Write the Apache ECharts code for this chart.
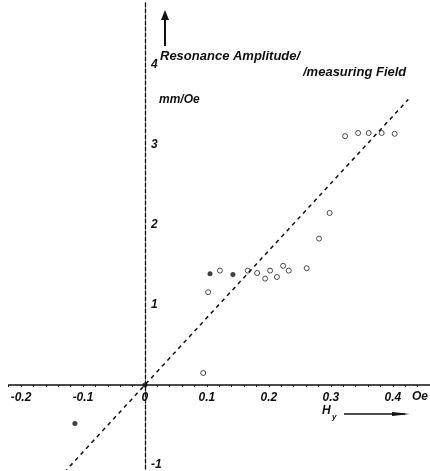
<!DOCTYPE html>
<html><head><meta charset="utf-8">
<script src="https://cdn.jsdelivr.net/npm/echarts@6/dist/echarts.min.js"></script>
<style>html,body{margin:0;padding:0;background:#fff}#c{width:430px;height:471px}</style>
</head><body><div id="c"></div>
<script>
// measured points (open symbols)
const openX = [0.102, 0.121, 0.166, 0.181, 0.194, 0.202, 0.213, 0.223, 0.232, 0.261, 0.281, 0.298, 0.323, 0.344, 0.361, 0.382, 0.403, 0.094];
const openY = [1.16, 1.43, 1.43, 1.40, 1.33, 1.43, 1.35, 1.49, 1.43, 1.46, 1.83, 2.15, 3.11, 3.15, 3.15, 3.15, 3.14, 0.15];
// measured points (filled symbols)
const filledX = [0.105, 0.142, 0, -0.113];
const filledY = [1.39, 1.38, 0, -0.48];
// dashed proportional line
const fitX = [-0.13, 0.425];
const fitY = [-1.09, 3.57];
// tick labels
const xTickLabels = [-0.2, -0.1, 0, 0.1, 0.2, 0.3, 0.4];
const yTickLabels = [-1, 1, 2, 3, 4];

const zip = (a, b) => a.map((v, i) => [v, b[i]]);
const font = '"Liberation Sans", Arial, sans-serif';
const W = 430, H = 471;
const G = { left: 8.6, right: 0, top: 1, bottom: 2 };
const xMin = -0.22, xMax = 0.46, yMin = -1.05, yMax = 4.8;
const gw = W - G.left - G.right, gh = H - G.top - G.bottom;
// move axes (with their labels) onto the zero lines
const xOffset = -(gh * (0 - yMin) / (yMax - yMin));
const yOffset = -(gw * (0 - xMin) / (xMax - xMin));

const chart = echarts.init(document.getElementById('c'));
chart.setOption({
  animation: false,
  backgroundColor: '#fff',
  grid: Object.assign({ outerBoundsMode: 'none', containLabel: false }, G),
  xAxis: {
    type: 'value', min: xMin, max: xMax, interval: 0.02,
    position: 'bottom', offset: xOffset,
    splitLine: { show: false },
    axisLine: { onZero: false, lineStyle: { color: '#111', width: 1.5 } },
    axisTick: { show: true, length: 2, lineStyle: { color: '#111' } },
    axisLabel: {
      margin: 7, color: '#111', fontFamily: font, fontStyle: 'italic', fontWeight: 'bold', fontSize: 12,
      formatter: v => {
        const m = xTickLabels.find(t => Math.abs(t - v) < 1e-6);
        return m === undefined ? '' : String(m);
      }
    }
  },
  yAxis: {
    type: 'value', min: yMin, max: yMax, interval: 0.05,
    position: 'left', offset: yOffset,
    splitLine: { show: false },
    axisLine: { onZero: false, lineStyle: { color: '#111', width: 1.3, type: [4, 2] } },
    axisTick: { show: false },
    axisLabel: {
      inside: true, margin: 6, color: '#111', fontFamily: font, fontStyle: 'italic', fontWeight: 'bold', fontSize: 12,
      formatter: v => {
        const m = yTickLabels.find(t => Math.abs(t - v) < 1e-6);
        return m === undefined ? '' : String(m);
      }
    }
  },
  series: [
    {
      type: 'line', data: zip(fitX, fitY), symbol: 'none', silent: true,
      lineStyle: { color: '#111', width: 1.5, type: [4, 4] }
    },
    {
      type: 'scatter', data: zip(openX, openY), symbol: 'circle', symbolSize: 5,
      itemStyle: { color: '#fff', borderColor: '#222', borderWidth: 1 }
    },
    {
      type: 'scatter', data: zip(filledX, filledY), symbol: 'circle', symbolSize: 5,
      itemStyle: { color: '#111' }
    }
  ],
  graphic: [
    { type: 'line', shape: { x1: 165, y1: 46, x2: 165, y2: 18 }, style: { stroke: '#111', lineWidth: 2 } },
    { type: 'polygon', shape: { points: [[161, 20], [169, 20], [165, 10]] }, style: { fill: '#111' } },
    { type: 'text', left: 160, top: 50, style: { text: 'Resonance Amplitude/', font: 'italic bold 13px ' + font, fill: '#111' } },
    { type: 'text', left: 303, top: 66, style: { text: '/measuring Field', font: 'italic bold 13px ' + font, fill: '#111' } },
    { type: 'text', left: 159, top: 94, style: { text: 'mm/Oe', font: 'italic bold 12px ' + font, fill: '#111' } },
    { type: 'text', left: 412, top: 391, style: { text: 'Oe', font: 'italic bold 12px ' + font, fill: '#111' } },
    { type: 'text', left: 322, top: 405, style: { text: 'H', font: 'italic bold 12px ' + font, fill: '#111' } },
    { type: 'text', left: 332, top: 413, style: { text: 'y', font: 'italic bold 8px ' + font, fill: '#111' } },
    { type: 'line', shape: { x1: 344, y1: 414, x2: 405, y2: 414 }, style: { stroke: '#111', lineWidth: 1.3 } },
    { type: 'polygon', shape: { points: [[392, 412], [410, 414], [392, 416]] }, style: { fill: '#111' } }
  ]
});
</script></body></html>
